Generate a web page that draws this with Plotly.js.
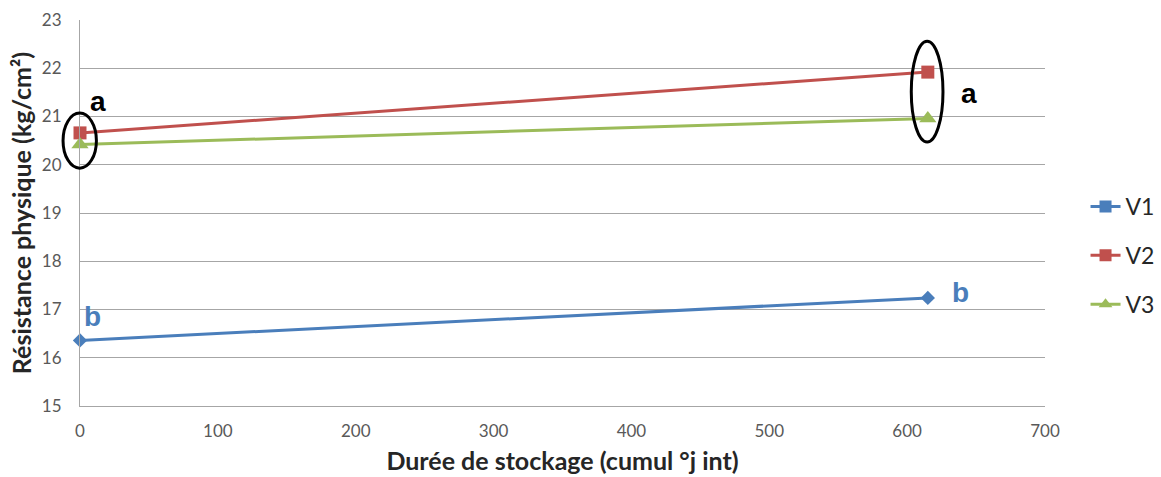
<!DOCTYPE html>
<html><head><meta charset="utf-8">
<script src="https://cdn.plot.ly/plotly-3.0.1.min.js"></script>
<style>html,body{margin:0;padding:0;background:#fff;}#chart{width:1161px;height:477px;}</style>
</head><body><div id="chart"></div>
<script>
const xDays = [0, 615];
const v1 = [16.36, 17.24];
const v2 = [20.66, 21.92];
const v3 = [20.42, 20.96];
const seriesNames = ['V1', 'V2', 'V3'];
const colors = ['#4A7EBB', '#C0504D', '#9BBB59'];
const letters = ['a', 'a', 'b', 'b'];

const X0 = 0, X1 = 700, Y0 = 15, Y1 = 23;
const px = x => (x - X0) / (X1 - X0);
const py = y => (y - Y0) / (Y1 - Y0);

const traces = [
  {x: xDays, y: v1, mode: 'lines+markers', name: seriesNames[0], showlegend: false, cliponaxis: false,
   line: {color: colors[0], width: 3}, marker: {symbol: 'diamond', size: 11, color: colors[0]}},
  {x: xDays, y: v2, mode: 'lines+markers', name: seriesNames[1], showlegend: false, cliponaxis: false,
   line: {color: colors[1], width: 3}, marker: {symbol: 'square', size: 13, color: colors[1]}},
  {x: xDays, y: v3, mode: 'lines+markers', name: seriesNames[2], showlegend: false, cliponaxis: false,
   line: {color: colors[2], width: 3}, marker: {symbol: 'triangle-up', size: 15, color: colors[2]}},
];
const legSymbols = ['square', 'square', 'triangle-up'];
seriesNames.forEach((n, i) => traces.push({
  x: [null], y: [null], mode: 'lines+markers', name: n, legendgroup: 'g' + i,
  line: {color: colors[i], width: 3}, marker: {symbol: legSymbols[i], size: 12, color: colors[i]}
}));

const shapes = [
  {type: 'circle', xref: 'paper', yref: 'paper', x0: px(xDays[0] - 12.3), x1: px(xDays[0] + 11.9),
   y0: py(19.93), y1: py(21.07), line: {color: '#000', width: 3}},
  {type: 'circle', xref: 'paper', yref: 'paper', x0: px(xDays[1] - 12), x1: px(xDays[1] + 11),
   y0: py(20.47), y1: py(22.56), line: {color: '#000', width: 3}},
];
const annFont = (c) => ({family: 'Liberation Sans, Arial, sans-serif', size: 28, color: c});
const ann = (x, y, t, c) => ({xref: 'paper', yref: 'paper', x: px(x), y: py(y), xanchor: 'center', yanchor: 'middle',
  text: '<b>' + t + '</b>', showarrow: false, font: annFont(c)});
const annotations = [
  ann(13, 21.31, letters[0], '#000'),
  ann(645, 21.48, letters[1], '#000'),
  ann(9.4, 16.85, letters[2], colors[0]),
  ann(639, 17.35, letters[3], colors[0]),
];

const layout = {
  width: 1161, height: 477,
  margin: {l: 80, r: 116, t: 20, b: 71},
  paper_bgcolor: '#fff', plot_bgcolor: '#fff',
  font: {family: 'Lato, sans-serif', color: '#595959', size: 17},
  xaxis: {range: [X0, X1], dtick: 100, showgrid: false, zeroline: false, showline: true, linecolor: '#a6a6a6', linewidth: 1,
    ticks: '', ticklabelstandoff: 10, tickfont: {size: 17, color: '#595959'},
    title: {text: '<b>Durée de stockage (cumul °j int)</b>', font: {size: 25, color: '#262626'}, standoff: 12}},
  yaxis: {range: [Y0, Y1], dtick: 1, showgrid: true, gridcolor: '#a6a6a6', gridwidth: 1, zeroline: false, showline: true, linecolor: '#a6a6a6',
    ticks: '', ticklabelstandoff: 14, tickfont: {size: 17, color: '#595959'},
    title: {text: '<b>Résistance physique (kg/cm²)</b>', font: {size: 25, color: '#262626'}, standoff: 3}},
  legend: {xref: 'container', x: 0.935, xanchor: 'left', y: 0.39, yanchor: 'middle', font: {size: 23, color: '#262626'},
    traceorder: 'grouped', tracegroupgap: 16, itemwidth: 30, bgcolor: 'rgba(0,0,0,0)'},
  shapes: shapes, annotations: annotations,
};
Plotly.newPlot('chart', traces, layout, {displayModeBar: false});
</script></body></html>
